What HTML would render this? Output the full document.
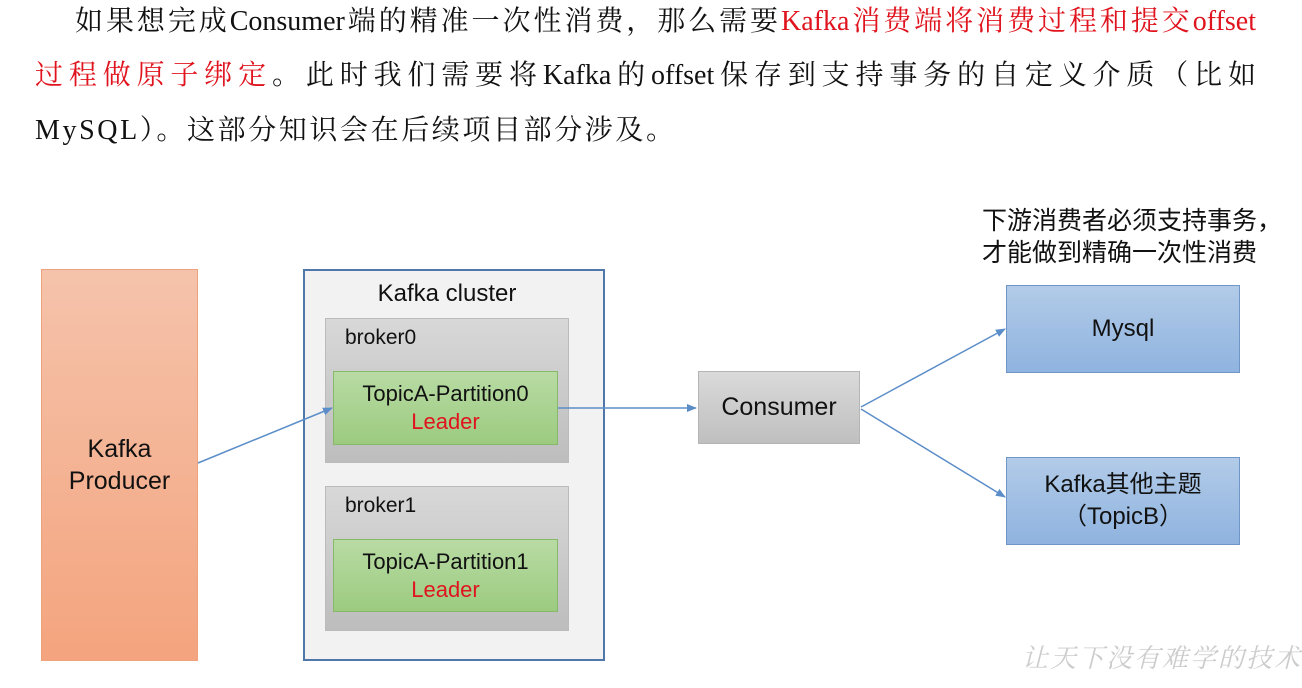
<!DOCTYPE html>
<html><head><meta charset="utf-8"><style>
body{margin:0;width:1302px;height:688px;background:#fff;position:relative;overflow:hidden;font-family:"Liberation Sans","Noto Sans CJK SC",sans-serif}
.t{position:absolute;font-family:"Liberation Serif","Noto Serif CJK SC",serif;font-size:28px;color:#111;white-space:nowrap;line-height:1}
.j{text-align:justify;text-align-last:justify;text-justify:inter-character}
.r{color:#e0141e}
.b{position:absolute;box-sizing:border-box;display:flex;align-items:center;justify-content:center;text-align:center;color:#111}
</style></head><body>
<div class="t j" style="left:75px;top:8px;width:1181px">如果想完成Consumer端的精准一次性消费，那么需要<span class="r">Kafka消费端将消费过程和提交offset</span></div>
<div class="t j" style="left:35px;top:62px;width:1221px"><span class="r">过程做原子绑定</span>。此时我们需要将Kafka的offset保存到支持事务的自定义介质（比如</div>
<div class="t" style="left:35px;top:117px;letter-spacing:2.6px">MySQL）。这部分知识会在后续项目部分涉及。</div>

<div class="b" style="left:41px;top:269px;width:157px;height:392px;background:linear-gradient(#f5c3ab,#f4a47e);border:1px solid #eea27c;font-size:25px;line-height:32px"><div>Kafka<br>Producer</div></div>

<div class="b" style="left:303px;top:269px;width:302px;height:392px;background:#f2f2f2;border:2px solid #4f77aa"></div>
<div style="position:absolute;left:296px;top:280px;width:302px;text-align:center;font-size:24px;color:#111">Kafka cluster</div>

<div class="b" style="left:325px;top:318px;width:244px;height:145px;background:linear-gradient(#d8d8d8,#bdbdbd);border:1px solid #bbb"></div>
<div style="position:absolute;left:345px;top:326px;font-size:21px;color:#111">broker0</div>
<div class="b" style="left:333px;top:371px;width:225px;height:74px;background:linear-gradient(#b8dba4,#9ccb80);border:1px solid #86b96a;font-size:22px;line-height:28px"><div>TopicA-Partition0<br><span class="r">Leader</span></div></div>

<div class="b" style="left:325px;top:486px;width:244px;height:145px;background:linear-gradient(#d8d8d8,#bdbdbd);border:1px solid #bbb"></div>
<div style="position:absolute;left:345px;top:494px;font-size:21px;color:#111">broker1</div>
<div class="b" style="left:333px;top:539px;width:225px;height:73px;background:linear-gradient(#b8dba4,#9ccb80);border:1px solid #86b96a;font-size:22px;line-height:28px"><div>TopicA-Partition1<br><span class="r">Leader</span></div></div>

<div class="b" style="left:698px;top:371px;width:162px;height:73px;background:linear-gradient(#dadada,#bfbfbf);border:1px solid #b5b5b5;font-size:25px">Consumer</div>

<div class="b" style="left:1006px;top:285px;width:234px;height:88px;background:linear-gradient(#b2cbe8,#8fb3df);border:1px solid #7096c8;font-size:24px">Mysql</div>
<div class="b" style="left:1006px;top:457px;width:234px;height:88px;background:linear-gradient(#b2cbe8,#8fb3df);border:1px solid #7096c8;font-size:24px;line-height:32px"><div>Kafka其他主题<br>（TopicB）</div></div>

<div style="position:absolute;left:982px;top:205px;font-size:25px;line-height:32px;color:#111;white-space:nowrap">下游消费者必须支持事务，<br>才能做到精确一次性消费</div>

<div style="position:absolute;left:1022px;top:638px;font-size:26px;color:#ccc;font-family:'Noto Serif CJK SC',serif;font-style:italic;letter-spacing:2px;white-space:nowrap">让天下没有难学的技术</div>

<svg width="1302" height="688" style="position:absolute;left:0;top:0">
<defs><marker id="a" markerWidth="10" markerHeight="8" refX="9" refY="4" orient="auto" markerUnits="userSpaceOnUse"><path d="M0,0L10,4L0,8z" fill="#5b8dc8"/></marker></defs>
<g stroke="#5b8dc8" stroke-width="1.5" fill="none" marker-end="url(#a)">
<line x1="198" y1="463" x2="332" y2="408"/>
<line x1="558" y1="408" x2="696" y2="408"/>
<line x1="861" y1="407" x2="1005" y2="329"/>
<line x1="861" y1="409" x2="1005" y2="497"/>
</g></svg>
</body></html>
